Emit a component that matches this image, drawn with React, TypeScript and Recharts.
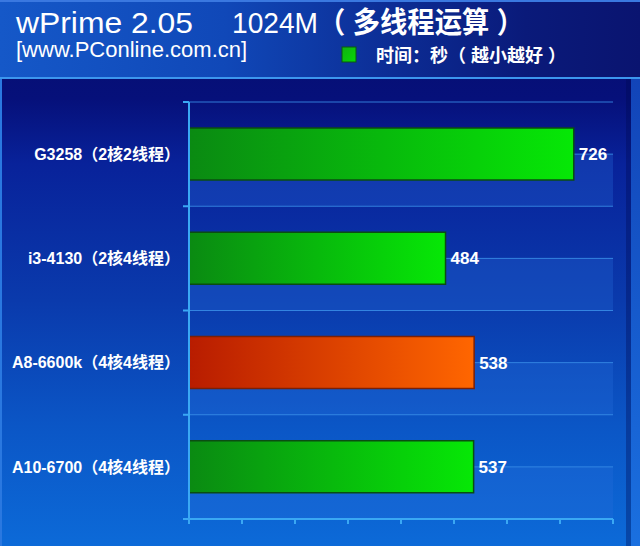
import React from 'react';
import { BarChart, Bar, XAxis, YAxis, CartesianGrid, Cell, LabelList } from 'recharts';

const categories = [
  'G3258（2核2线程）',
  'i3-4130（2核4线程）',
  'A8-6600k（4核4线程）',
  'A10-6700（4核4线程）',
];
const seconds = [726, 484, 538, 537];
const xTicks = [0, 100, 200, 300, 400, 500, 600, 700, 800];
const highlighted = 'A8-6600k（4核4线程）';
const titleMain = 'wPrime 2.05';
const titleLatin = '1024M';
const titleCjk = '（ 多线程运算 ）';
const siteText = '[www.PConline.com.cn]';
const legendText = '时间：秒（ 越小越好 ）';

const data = categories.map((name, i) => ({ name, seconds: seconds[i] }));

const W = 640;
const H = 546;
const MARGIN = { top: 102, right: 27, bottom: 17, left: 0 };
const Y_AXIS_W = 189;
const X_AXIS_H = 10;
const PLOT_H = H - MARGIN.top - MARGIN.bottom - X_AXIS_H;
const BAND = PLOT_H / categories.length;
const TICK_SIZE = 6;
const TICK_MARGIN = 3;
const AXIS_COLOR = '#3aa8f4';

const FONT = "'Liberation Sans', Arial, 'Noto Sans CJK SC', sans-serif";

function CategoryTick(props: any) {
  const { x, y, payload, index } = props;
  const axisX = x + TICK_SIZE + TICK_MARGIN;
  const last = index === categories.length - 1;
  return (
    <g>
      <line x1={axisX - 6} x2={axisX} y1={y - BAND / 2} y2={y - BAND / 2} stroke={AXIS_COLOR} strokeWidth={2} />
      {last && (
        <line x1={axisX - 6} x2={axisX} y1={y + BAND / 2} y2={y + BAND / 2} stroke={AXIS_COLOR} strokeWidth={2} />
      )}
      <text x={x} y={y} dy="0.36em" textAnchor="end" fill="#ffffff" fontSize={16} fontWeight="bold" fontFamily={FONT}>
        {payload.value}
      </text>
    </g>
  );
}

const EmptyTick = () => <g />;

export default function App() {
  const nLines = categories.length * 2;
  return (
    <div
      style={{
        position: 'fixed',
        left: 0,
        top: 0,
        width: W,
        height: H,
        overflow: 'hidden',
        fontFamily: FONT,
        background:
          'linear-gradient(to bottom, #050c6c 0%, #06107a 18%, #08229a 30%, #0a3aac 55%, #0b56c6 78%, #0c6ad8 100%)',
      }}
    >
      <div
        style={{
          position: 'absolute',
          left: 0,
          top: 0,
          width: W,
          height: 77,
          background: 'linear-gradient(to right, #1558c8 0%, #1048b8 35%, #0c2c94 62%, #0a1a7a 82%, #0a1470 100%)',
        }}
      />
      <div style={{ position: 'absolute', left: 0, top: 0, width: W, height: 2, background: '#3a78e0' }} />
      <div style={{ position: 'absolute', left: 0, top: 77, width: W, height: 2, background: '#3c96ee' }} />
      <div style={{ position: 'absolute', left: 0, top: 79, width: 2, height: H - 79, background: '#2a78e0' }} />
      <div
        style={{
          position: 'absolute',
          left: 626,
          top: 79,
          width: 5,
          height: H - 79,
          background: 'rgba(0,10,80,0.35)',
        }}
      />
      <div
        style={{
          position: 'absolute',
          left: 631,
          top: 79,
          width: 9,
          height: H - 79,
          background: 'linear-gradient(to bottom, #1244b8 0%, #1a70e0 100%)',
        }}
      />
      <svg style={{ position: 'absolute', left: 0, top: 0 }} width={W} height={80}>
        <text x={16} y={33} fill="#ffffff" fontSize={29} fontFamily={FONT} textLength={177} lengthAdjust="spacingAndGlyphs">
          {titleMain}
        </text>
        <text x={232} y={33} fill="#ffffff" fontSize={29} fontFamily={FONT} textLength={86} lengthAdjust="spacingAndGlyphs">
          {titleLatin}
        </text>
        <text x={318} y={33} fill="#ffffff" fontSize={29} fontWeight="bold" fontFamily={FONT} textLength={206} lengthAdjust="spacingAndGlyphs">
          {titleCjk}
        </text>
        <text x={16} y={57} fill="#ffffff" fontSize={22} fontFamily={FONT}>
          {siteText}
        </text>
        <defs>
          <linearGradient id="legendGreen" x1="0" y1="0" x2="1" y2="1">
            <stop offset="0%" stopColor="#12b012" />
            <stop offset="100%" stopColor="#06d806" />
          </linearGradient>
        </defs>
        <rect x={342} y={47} width={14} height={15} fill="url(#legendGreen)" stroke="#0a5a10" strokeWidth={1} />
        <text x={376} y={62} fill="#ffffff" fontSize={18} fontWeight="bold" fontFamily={FONT} textLength={190} lengthAdjust="spacing">
          {legendText}
        </text>
      </svg>
      <div style={{ position: 'absolute', left: 0, top: 0 }}>
        <BarChart
          width={W}
          height={H}
          data={data}
          layout="vertical"
          margin={MARGIN}
          barCategoryGap="25%"
        >
          <defs>
            <linearGradient id="barGreen" x1="0" y1="0" x2="1" y2="0">
              <stop offset="0%" stopColor="#0a8a12" />
              <stop offset="100%" stopColor="#06e806" />
            </linearGradient>
            <linearGradient id="barOrange" x1="0" y1="0" x2="1" y2="0">
              <stop offset="0%" stopColor="#b81c00" />
              <stop offset="100%" stopColor="#ff6600" />
            </linearGradient>
          </defs>
          <CartesianGrid
            vertical={false}
            stroke="#3a8ee8"
            strokeOpacity={0.85}
            horizontalFill={['rgba(0,0,0,0)', 'rgba(40,110,220,0.3)']}
            horizontalCoordinatesGenerator={({ offset }: any) =>
              Array.from({ length: nLines + 1 }, (_, i) => offset.top + (i * offset.height) / nLines)
            }
          />
          <XAxis
            type="number"
            domain={[0, 800]}
            ticks={xTicks}
            height={X_AXIS_H}
            tick={EmptyTick}
            tickSize={5}
            axisLine={{ stroke: AXIS_COLOR, strokeWidth: 2 }}
            tickLine={{ stroke: AXIS_COLOR, strokeWidth: 2 }}
          />
          <YAxis
            type="category"
            dataKey="name"
            width={Y_AXIS_W}
            tickSize={TICK_SIZE}
            tickMargin={TICK_MARGIN}
            tickLine={false}
            tick={<CategoryTick />}
            axisLine={{ stroke: AXIS_COLOR, strokeWidth: 2 }}
            interval={0}
          />
          <Bar dataKey="seconds" isAnimationActive={false}>
            {data.map((d) => (
              <Cell
                key={d.name}
                fill={d.name === highlighted ? 'url(#barOrange)' : 'url(#barGreen)'}
                stroke={d.name === highlighted ? '#7a2008' : '#0b4d12'}
                strokeWidth={1.5}
              />
            ))}
            <LabelList
              dataKey="seconds"
              position="right"
              offset={5}
              fill="#ffffff"
              fontSize={17}
              fontWeight="bold"
              fontFamily={FONT}
            />
          </Bar>
        </BarChart>
      </div>
    </div>
  );
}
